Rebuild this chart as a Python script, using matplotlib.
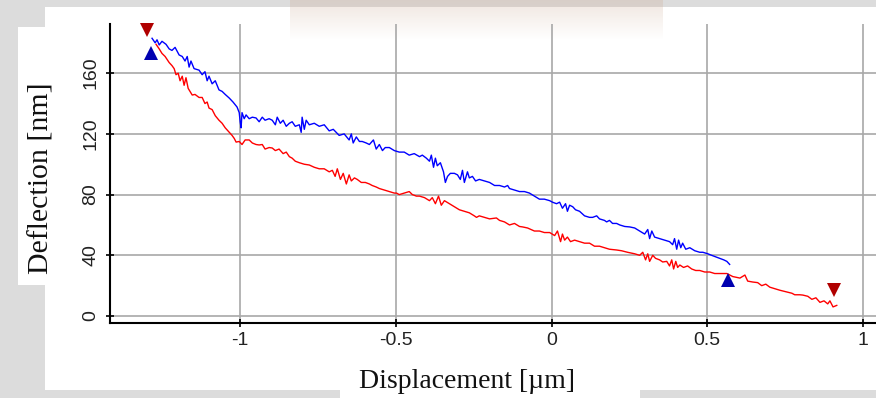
import numpy as np
import matplotlib.pyplot as plt
from matplotlib.patches import Rectangle

# approach curve (red); x in um, y in nm
red_x = [-1.270, -1.260, -1.251, -1.241, -1.228, -1.219, -1.212, -1.206, -1.199, -1.193,
         -1.186, -1.180, -1.174, -1.167, -1.161, -1.154, -1.145, -1.132, -1.122, -1.113,
         -1.106, -1.100, -1.090, -1.080, -1.068, -1.058, -1.048, -1.035, -1.026, -1.019,
         -1.013, -1.003, -0.994, -0.984, -0.971, -0.961, -0.949, -0.939, -0.929, -0.920,
         -0.907, -0.897, -0.887, -0.875, -0.862, -0.852, -0.842, -0.833, -0.823, -0.810,
         -0.794, -0.778, -0.762, -0.746, -0.730, -0.714, -0.704, -0.695, -0.688, -0.678,
         -0.669, -0.659, -0.650, -0.643, -0.633, -0.624, -0.611, -0.598, -0.585, -0.576,
         -0.563, -0.553, -0.537, -0.521, -0.505, -0.498, -0.489, -0.473, -0.457, -0.447,
         -0.434, -0.424, -0.408, -0.392, -0.383, -0.373, -0.363, -0.354, -0.344, -0.328,
         -0.312, -0.296, -0.280, -0.264, -0.248, -0.241, -0.232, -0.215, -0.199, -0.177,
         -0.167, -0.151, -0.135, -0.119, -0.103, -0.093, -0.077, -0.055, -0.039, -0.023,
         -0.006, 0.010, 0.019, 0.029, 0.035, 0.042, 0.051, 0.061, 0.074, 0.090,
         0.106, 0.122, 0.138, 0.154, 0.170, 0.186, 0.209, 0.225, 0.244, 0.267,
         0.283, 0.293, 0.302, 0.309, 0.315, 0.325, 0.334, 0.347, 0.357, 0.370,
         0.379, 0.386, 0.392, 0.399, 0.405, 0.412, 0.424, 0.437, 0.450, 0.463,
         0.476, 0.492, 0.508, 0.524, 0.540, 0.563, 0.582, 0.605, 0.621, 0.630,
         0.646, 0.662, 0.675, 0.688, 0.701, 0.717, 0.733, 0.756, 0.772, 0.781,
         0.797, 0.807, 0.823, 0.836, 0.849, 0.862, 0.875, 0.887, 0.894, 0.904,
         0.916]
red_y = [179, 176, 173, 171, 167, 165, 163, 159, 160, 155,
         158, 152, 157, 150, 148, 145.6, 146, 144, 144, 140,
         141, 137, 136, 132, 129, 127, 124, 121, 119, 117,
         114.6, 115, 113, 116, 116, 114, 113, 112.7, 113, 110,
         111, 110.7, 109, 110, 107, 108, 105, 104, 102, 101,
         100, 99.5, 98, 97, 97, 95, 96, 92, 97, 90,
         94, 87, 93, 89, 91, 90, 88, 88, 87, 86,
         85, 84, 83, 82, 81, 81, 80, 81, 82, 80,
         79, 79, 78, 76, 78, 74, 79, 73, 76, 74,
         72, 70, 69, 68, 66, 65, 66, 65, 64, 64.6,
         63, 62, 60, 61, 59, 58.7, 58, 56, 56, 55,
         55, 53, 56, 49, 54, 50, 52, 49, 50, 49,
         48, 48, 46, 46, 45, 44, 43.5, 43, 42, 41,
         40, 42, 37, 41, 36, 40, 38, 37, 35.6, 36,
         33, 37, 31, 36, 32, 33.6, 32, 33, 31, 30,
         30, 29, 29, 28, 28, 28, 26, 25, 27, 23,
         22.4, 22, 20, 21, 19, 18, 17, 15.8, 15, 14,
         14, 13.8, 13, 11, 12, 9, 10, 8, 10, 6,
         7]

# retract curve (blue)
blue_x = [-1.283, -1.273, -1.267, -1.260, -1.251, -1.238, -1.228, -1.219, -1.209, -1.196,
          -1.186, -1.177, -1.170, -1.164, -1.158, -1.148, -1.132, -1.122, -1.113, -1.106,
          -1.100, -1.090, -1.080, -1.068, -1.058, -1.048, -1.035, -1.023, -1.010, -1.003,
          -1.000, -0.997, -0.994, -0.987, -0.981, -0.971, -0.961, -0.949, -0.939, -0.929,
          -0.920, -0.907, -0.897, -0.887, -0.881, -0.871, -0.862, -0.852, -0.842, -0.833,
          -0.823, -0.810, -0.804, -0.801, -0.794, -0.788, -0.778, -0.762, -0.746, -0.730,
          -0.714, -0.701, -0.682, -0.666, -0.650, -0.643, -0.637, -0.627, -0.617, -0.608,
          -0.595, -0.585, -0.572, -0.563, -0.553, -0.543, -0.534, -0.521, -0.505, -0.489,
          -0.473, -0.457, -0.441, -0.424, -0.415, -0.402, -0.392, -0.386, -0.379, -0.373,
          -0.367, -0.357, -0.347, -0.341, -0.334, -0.325, -0.312, -0.302, -0.293, -0.286,
          -0.280, -0.270, -0.264, -0.254, -0.244, -0.232, -0.215, -0.199, -0.183, -0.167,
          -0.151, -0.141, -0.135, -0.119, -0.103, -0.087, -0.071, -0.055, -0.039, -0.023,
          -0.006, 0.003, 0.016, 0.026, 0.035, 0.045, 0.051, 0.058, 0.068, 0.077,
          0.090, 0.106, 0.122, 0.132, 0.145, 0.154, 0.170, 0.177, 0.186, 0.196,
          0.209, 0.219, 0.235, 0.251, 0.267, 0.283, 0.299, 0.309, 0.315, 0.322,
          0.331, 0.347, 0.363, 0.379, 0.389, 0.395, 0.402, 0.408, 0.415, 0.421,
          0.431, 0.444, 0.460, 0.476, 0.486, 0.502, 0.514, 0.527, 0.540, 0.553,
          0.563, 0.572]
blue_y = [183, 180, 182, 178.6, 181, 179, 176, 175, 177, 172,
          171, 168, 171, 164, 168, 163, 162, 159, 161, 155,
          158, 153, 155, 149, 148, 146, 143.6, 141, 137.7, 134,
          128, 124, 134, 130, 132.5, 130, 131, 130.5, 128, 131,
          129, 130, 129, 126, 131, 127, 129, 125, 127, 128,
          125, 126, 121, 131, 123, 129, 126, 127, 125, 126,
          122, 123, 119, 120, 116, 120, 114, 118, 115, 115,
          114, 113, 116, 110, 113, 109, 111, 111, 109, 108,
          108, 106, 107, 105, 106, 104, 102, 106, 98, 104,
          99, 101, 95, 88, 92, 94, 94, 93, 90, 96,
          88, 95, 91, 92, 89, 90, 89, 88, 86, 86,
          85, 86, 84, 83, 82, 82, 81, 79, 77, 77,
          76, 75, 74, 75, 71, 74, 69, 73, 72, 70,
          69, 66, 65, 65, 66, 64, 63, 62, 63, 61,
          61, 60, 59, 58.7, 58, 56, 54, 57, 51, 56,
          52, 51, 50, 49, 47, 51, 44, 50, 45, 48,
          44, 45, 43, 42, 42, 41, 40, 39, 38, 37,
          36, 34]

# start / end markers
red_mark_x = [-1.299, 0.907]
red_mark_y = [188.5, 17]
blue_mark_x = [-1.286, 0.566]
blue_mark_y = [173, 24]

x_ticks = [-1, -0.5, 0, 0.5, 1]
x_ticklabels = ['-1', '-0.5', '0', '0.5', '1']
y_ticks = [0, 40, 80, 120, 160]

W, H = 876, 398
fig = plt.figure(figsize=(W / 100, H / 100), dpi=100)
fig.patch.set_facecolor('#dcdcdc')

# white panels of the screenshot
def px_rect(x0, y0, x1, y1, color='white', z=0):
    fig.patches.append(Rectangle((x0 / W, 1 - y1 / H), (x1 - x0) / W, (y1 - y0) / H,
                                 transform=fig.transFigure, facecolor=color,
                                 edgecolor='none', zorder=z))

px_rect(45, 7, 876, 390)
px_rect(18, 27, 45, 285)
px_rect(340, 390, 640, 398)

# faint banner remnant at the top
band = fig.add_axes([290 / W, 1 - 40 / H, 373 / W, 40 / H], zorder=0.5)
fade = np.linspace(0.32, 0.0, 40)[:, None] * np.ones((1, 10))
rgba = np.zeros((40, 10, 4))
rgba[..., 0], rgba[..., 1], rgba[..., 2] = 0.82, 0.70, 0.62
rgba[..., 3] = fade
band.imshow(rgba, aspect='auto', interpolation='bilinear')
band.axis('off')

ax = fig.add_axes([110 / W, 75 / H, 1 - 110 / W, (323 - 24) / H], zorder=2)
ax.set_facecolor('none')

ax.plot(red_x, red_y, color='#ff0000', lw=1.0, zorder=3)
ax.plot(blue_x, blue_y, color='#0000ff', lw=1.0, zorder=3)
ax.plot(red_mark_x, red_mark_y, 'v', color='#b00000', ms=10, mew=0, zorder=4, clip_on=False)
ax.plot(blue_mark_x, blue_mark_y, '^', color='#0000b0', ms=10, mew=0, zorder=4, clip_on=False)

ax.set_xlim(-1.418, 1.042)
ax.set_ylim(-4.6, 192.4)
ax.set_xticks(x_ticks)
ax.set_xticklabels(x_ticklabels)
ax.set_yticks(y_ticks)
ax.grid(True, color='#a8a8a8', lw=1.2)
ax.set_axisbelow(True)

for s in ['top', 'right']:
    ax.spines[s].set_visible(False)
for s in ['left', 'bottom']:
    ax.spines[s].set_linewidth(1.5)
    ax.spines[s].set_color('black')

ax.tick_params(direction='inout', length=5.5, width=1.2, colors='black',
               labelsize=14, labelcolor='#222222')
ax.tick_params(axis='x', pad=4)
ax.tick_params(axis='y', pad=5, labelrotation=90)
for lab in ax.get_xticklabels() + ax.get_yticklabels():
    lab.set_family(['Liberation Sans', 'DejaVu Sans'])
for lab in ax.get_yticklabels():
    lab.set_va('center')

fig.text(42 / W, 1 - 178 / H, 'Deflection [nm]', rotation=90, ha='center', va='center',
         fontsize=21.5, family=['Liberation Serif', 'DejaVu Serif'], color='#111111')
fig.text(467 / W, 1 - 388 / H, 'Displacement [µm]', ha='center', va='baseline',
         fontsize=20, family=['Liberation Serif', 'DejaVu Serif'], color='#111111')

fig.savefig('out.png', dpi=100, facecolor=fig.get_facecolor())
